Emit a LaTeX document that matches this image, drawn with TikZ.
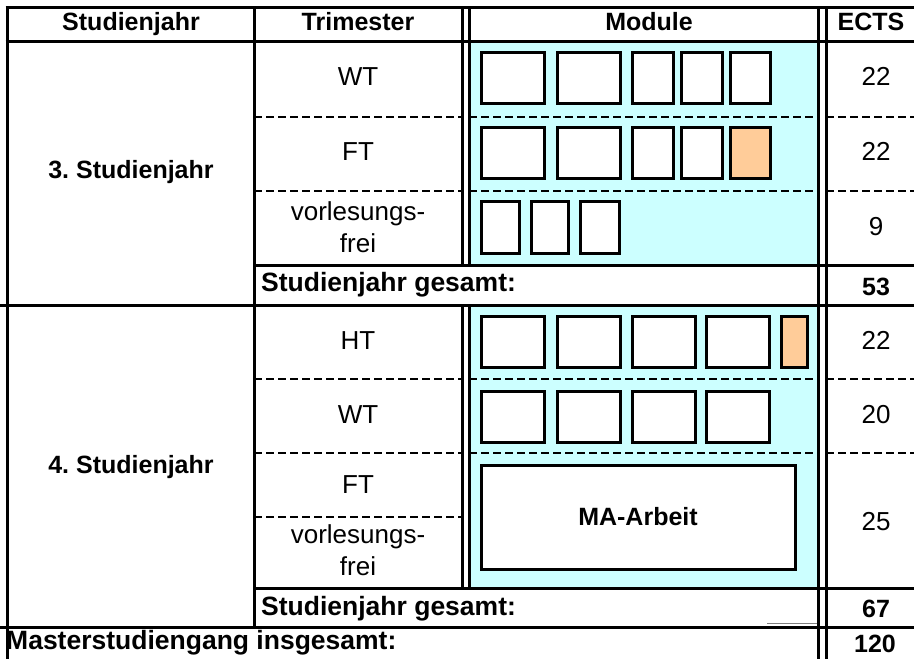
\documentclass[tikz,border=0pt]{standalone}
\usepackage{fontspec}
\setmainfont{Liberation Sans}
\usetikzlibrary{positioning}
\definecolor{modcyan}{HTML}{CCFFFF}
\definecolor{peach}{HTML}{FFCC99}
\frenchspacing

\begin{document}
\begin{tikzpicture}[x=1pt,y=-1pt,
	rule/.style={line width=3pt},
	cut/.style={line width=2.6pt,dash pattern=on 8pt off 4pt},
	modbox/.style={draw,line width=3pt,fill=white},
	extra/.style={modbox,fill=peach},
	txt/.style={font=\fontsize{26}{32}\selectfont,align=center,inner sep=0pt},
	hd/.style={txt,font=\fontsize{25}{32}\selectfont\bfseries},
	sumtxt/.style={txt,font=\fontsize{26.5}{32}\selectfont\bfseries,anchor=base west}]
	\useasboundingbox (0,0) rectangle (914,659);
	\fill[modcyan] (469,41) rectangle (818,265);
	\fill[modcyan] (469,305) rectangle (818,588);
	\foreach \a/\b in {481/544,557/620,632/673,681/722,730/770}
		\draw[modbox] (\a,52) rectangle (\b,103);
	\foreach \a/\b in {481/544,557/620,632/673,681/722}
		\draw[modbox] (\a,127) rectangle (\b,178);
	\draw[extra] (730,127) rectangle (770,178);
	\foreach \a/\b in {481/519,531/568,580/619}
		\draw[modbox] (\a,201) rectangle (\b,253);
	\foreach \a/\b in {481/544,557/620,632/695,706/769}
	{
		\draw[modbox] (\a,316) rectangle (\b,367);
		\draw[modbox] (\a,391) rectangle (\b,442);
	}
	\draw[extra] (781,316) rectangle (807,367);
	\node[modbox,hd,minimum width=314pt,minimum height=104pt] (ma) at (638,517) {MA-Arbeit};
	\draw[rule]
		(5.5,7) -- (914,7)
		(5.5,41) -- (914,41)
		(254,265) -- (914,265)
		(0,305) -- (914,305)
		(254,588) -- (914,588)
		(0,627) -- (914,627)
		(7,7) -- (7,659)
		(254,7) -- (254,627)
		(462,7) -- (462,265)
		(469,7) -- (469,265)
		(462,305) -- (462,588)
		(469,305) -- (469,588)
		(818,7) -- (818,659)
		(826,7) -- (826,659);
	\foreach \y in {117,191,379,453}
		\draw[cut] (254,\y) -- (462,\y) (469,\y) -- (818,\y) (826,\y) -- (914,\y);
	\draw[cut] (254,517) -- (462,517);
	\draw[gray,line width=1pt] (767,623) -- (817,623);
	\node[hd,anchor=base] (hjahr) at (131,30) {Studienjahr};
	\node[hd,anchor=base] (htri) at (358,30) {Trimester};
	\node[hd,anchor=base] (hmod) at (649,30) {Module};
	\node[hd,anchor=base] (hects) at (871,30) {ECTS};
	\node[hd] (jahr3) at (131,172) {3. Studienjahr};
	\node[hd] (jahr4) at (131,467) {4. Studienjahr};
	\node[txt,anchor=base] (wt3) at (358,85) {WT};
	\node[txt,anchor=base] (ft3) at (358,160) {FT};
	\node[txt] (vf3) at (358,227) {vorlesungs-\\frei};
	\node[txt,anchor=base] (ht4) at (358,349) {HT};
	\node[txt,anchor=base] (wt4) at (358,423) {WT};
	\node[txt,anchor=base] (ft4) at (358,493) {FT};
	\node[txt] (vf4) at (358,550) {vorlesungs-\\frei};
	\node[txt,anchor=base] (e1) at (876,85) {22};
	\node[txt,anchor=base] (e2) at (876,160) {22};
	\node[txt,anchor=base] (e3) at (876,235) {9};
	\node[hd,anchor=base] (sum3) at (876,295) {53};
	\node[txt,anchor=base] (e4) at (876,349) {22};
	\node[txt,anchor=base] (e5) at (876,423) {20};
	\node[txt,anchor=base] (e6) at (876,530) {25};
	\node[hd,anchor=base] (sum4) at (876,617) {67};
	\node[hd,anchor=base] (total) at (875,652) {120};
	\node[sumtxt] (ges3) at (261,291) {Studienjahr gesamt:};
	\node[sumtxt] (ges4) at (261,615) {Studienjahr gesamt:};
	\node[sumtxt] (master) at (6,649) {Masterstudiengang insgesamt:};
\end{tikzpicture}
\end{document}
